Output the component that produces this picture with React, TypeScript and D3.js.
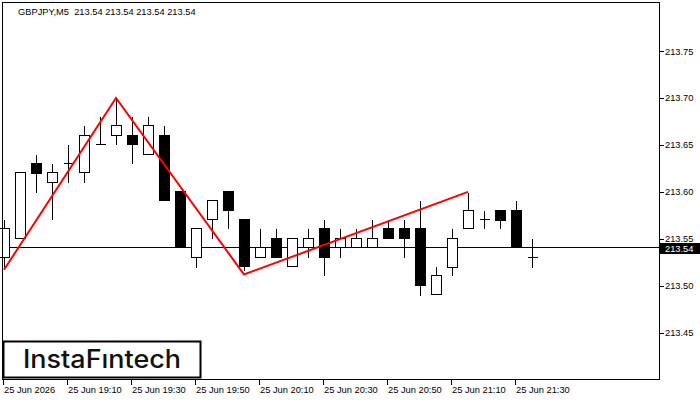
import React, { useEffect, useRef } from 'react';
import * as d3 from 'd3';

// candles (M5)
const opens = [213.531, 213.551, 213.631, 213.611, 213.631, 213.621, 213.651, 213.661, 213.661, 213.640, 213.661, 213.601, 213.531, 213.571, 213.601, 213.571, 213.531, 213.551, 213.521, 213.541, 213.562, 213.541, 213.541, 213.541, 213.562, 213.562, 213.562, 213.491, 213.520, 213.562, 213.571, 213.581, 213.581, 213.531];
const highs = [213.571, 213.621, 213.640, 213.631, 213.651, 213.671, 213.681, 213.700, 213.681, 213.681, 213.671, 213.601, 213.562, 213.591, 213.601, 213.571, 213.562, 213.562, 213.551, 213.562, 213.571, 213.562, 213.562, 213.571, 213.571, 213.571, 213.591, 213.521, 213.562, 213.600, 213.581, 213.581, 213.591, 213.551];
const lows = [213.520, 213.551, 213.600, 213.571, 213.611, 213.611, 213.651, 213.651, 213.631, 213.640, 213.591, 213.541, 213.520, 213.551, 213.562, 213.517, 213.531, 213.531, 213.521, 213.531, 213.511, 213.531, 213.541, 213.541, 213.551, 213.531, 213.490, 213.491, 213.511, 213.562, 213.561, 213.561, 213.541, 213.520];
const closes = [213.562, 213.621, 213.620, 213.621, 213.631, 213.661, 213.651, 213.671, 213.651, 213.671, 213.591, 213.541, 213.562, 213.591, 213.581, 213.521, 213.541, 213.531, 213.551, 213.551, 213.531, 213.551, 213.551, 213.551, 213.551, 213.551, 213.501, 213.511, 213.551, 213.581, 213.571, 213.570, 213.541, 213.531];

// pattern line (bar index, price)
const patternIdx = [0, 7, 15, 29];
const patternPrice = [213.517, 213.700, 213.512, 213.600];

const priceTicks = [213.45, 213.50, 213.55, 213.60, 213.65, 213.70, 213.75];
const timeTickIdx = [0, 4, 8, 12, 16, 20, 24, 28, 32];
const timeTickLabels = ['25 Jun 2026', '25 Jun 19:10', '25 Jun 19:30', '25 Jun 19:50', '25 Jun 20:10', '25 Jun 20:30', '25 Jun 20:50', '25 Jun 21:10', '25 Jun 21:30'];

const symbol = 'GBPJPY,M5';
const lastPrice = 213.541;

const App = () => {
  const ref = useRef<SVGSVGElement>(null);

  useEffect(() => {
    const W = 700, H = 400;
    const left = 2.5, top = 2.5, right = 659.5, bottom = 379.5;
    const font = '"Liberation Sans", Arial, sans-serif';
    const fs = '9.3px';

    const svg = d3.select(ref.current);
    svg.selectAll('*').remove();
    svg.append('rect').attr('width', W).attr('height', H).attr('fill', '#fff');

    const x = d3.scaleLinear().domain([0, 40]).range([4, 644]);
    const y = d3.scaleLinear().domain([213.45, 213.75]).range([332.7, 51]);

    const g = svg.append('g').attr('shape-rendering', 'crispEdges');

    // price line
    g.append('line')
      .attr('x1', left).attr('x2', right)
      .attr('y1', Math.round(y(lastPrice)) + 0.5).attr('y2', Math.round(y(lastPrice)) + 0.5)
      .attr('stroke', '#000');

    const data = opens.map((o, i) => ({ i, o, h: highs[i], l: lows[i], c: closes[i] }));
    const px = (v: number) => Math.round(y(v)) + 0.5;

    const candle = g.selectAll('.candle').data(data).enter().append('g').attr('class', 'candle');

    candle.append('line')
      .attr('x1', d => x(d.i) + 0.5).attr('x2', d => x(d.i) + 0.5)
      .attr('y1', d => px(d.h)).attr('y2', d => px(d.l))
      .attr('stroke', '#000');

    candle.filter(d => Math.abs(d.o - d.c) > 0.0005).append('rect')
      .attr('x', d => x(d.i) - 4.5)
      .attr('width', 10)
      .attr('y', d => px(Math.max(d.o, d.c)))
      .attr('height', d => px(Math.min(d.o, d.c)) - px(Math.max(d.o, d.c)))
      .attr('fill', d => (d.c > d.o ? '#fff' : '#000'))
      .attr('stroke', '#000');

    candle.filter(d => Math.abs(d.o - d.c) <= 0.0005).append('line')
      .attr('x1', d => x(d.i) - 4.5).attr('x2', d => x(d.i) + 5.5)
      .attr('y1', d => px(d.o)).attr('y2', d => px(d.o))
      .attr('stroke', '#000');

    // pattern
    const line = d3.line<number>()
      .x((d, k) => x(patternIdx[k]))
      .y(d => y(d));
    svg.append('path')
      .attr('d', line(patternPrice))
      .attr('fill', 'none')
      .attr('stroke', '#ff0000')
      .attr('stroke-width', 2);

    // frame
    svg.append('rect')
      .attr('x', left).attr('y', top)
      .attr('width', right - left).attr('height', bottom - top)
      .attr('fill', 'none').attr('stroke', '#000')
      .attr('shape-rendering', 'crispEdges');

    // price axis
    const pa = svg.append('g').attr('shape-rendering', 'crispEdges');
    priceTicks.forEach(p => {
      pa.append('line')
        .attr('x1', right).attr('x2', right + 4)
        .attr('y1', px(p)).attr('y2', px(p))
        .attr('stroke', '#000');
      pa.append('text')
        .attr('x', 665).attr('y', y(p) + 3.5)
        .style('font-family', font).style('font-size', fs)
        .attr('fill', '#000')
        .text(d3.format('.2f')(p));
    });

    svg.append('rect')
      .attr('x', 660).attr('y', Math.round(y(lastPrice)) - 4)
      .attr('width', 40).attr('height', 11)
      .attr('fill', '#000');
    svg.append('text')
      .attr('x', 665).attr('y', Math.round(y(lastPrice)) + 5)
      .style('font-family', font).style('font-size', fs)
      .attr('fill', '#fff')
      .text(d3.format('.2f')(lastPrice));

    // time axis
    timeTickIdx.forEach((idx, k) => {
      const tx = Math.round(x(idx)) - 0.5;
      svg.append('line')
        .attr('x1', tx).attr('x2', tx)
        .attr('y1', bottom).attr('y2', bottom + 5)
        .attr('stroke', '#000')
        .attr('shape-rendering', 'crispEdges');
      svg.append('text')
        .attr('x', tx + 0.5).attr('y', 392.5)
        .style('font-family', font).style('font-size', fs)
        .attr('fill', '#000')
        .text(timeTickLabels[k]);
    });

    // header
    const hv = d3.format('.2f')(lastPrice);
    svg.append('text')
      .attr('x', 18).attr('y', 14.5)
      .style('font-family', font).style('font-size', fs)
      .attr('fill', '#000')
      .attr('xml:space', 'preserve')
      .style('white-space', 'pre')
      .text(`${symbol}  ${hv} ${hv} ${hv} ${hv}`);

    // logo
    svg.append('rect')
      .attr('x', 3.5).attr('y', 341.5)
      .attr('width', 197).attr('height', 36)
      .attr('fill', '#fff').attr('stroke', '#000').attr('stroke-width', 2);
    svg.append('text')
      .attr('x', 23).attr('y', 368)
      .attr('textLength', 158).attr('lengthAdjust', 'spacingAndGlyphs')
      .style('font-family', 'Inter, "Noto Sans", sans-serif')
      .style('font-weight', 500)
      .style('font-size', '25px')
      .attr('fill', '#111')
      .text('InstaFıntech');
  }, []);

  return (
    <svg
      ref={ref}
      width={700}
      height={400}
      style={{ position: 'absolute', left: 0, top: 0, display: 'block' }}
    />
  );
};

export default App;
